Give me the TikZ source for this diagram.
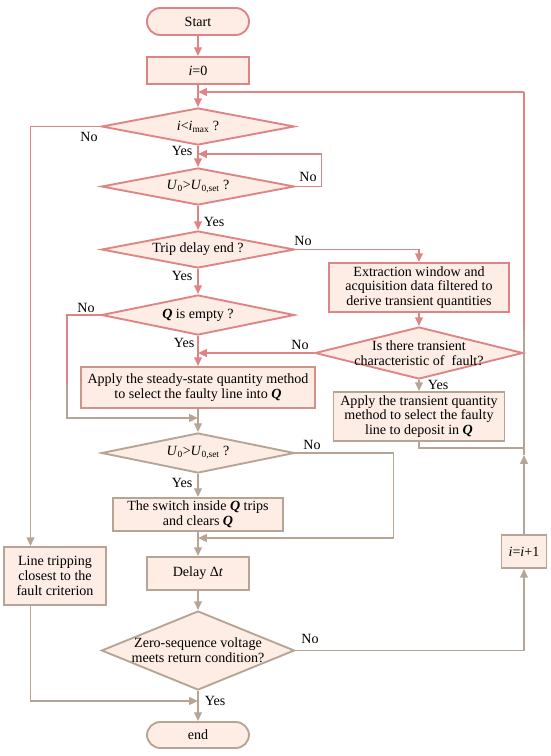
\documentclass[tikz,border=0pt]{standalone}
\usepackage{fontspec}
\setmainfont{Liberation Serif}
\usetikzlibrary{shapes.geometric,arrows.meta,positioning}
\definecolor{pinkline}{RGB}{222,132,132}
\definecolor{brownline}{RGB}{182,165,148}
\definecolor{midline}{RGB}{205,148,138}
\definecolor{boxfill}{RGB}{253,237,228}

\begin{document}
\begin{tikzpicture}[x=0.03cm, y=-0.03cm,
    font=\fontsize{12}{12.5}\selectfont,
    line/.style={line width=1.6pt},
    arr/.style={line, -{Triangle[length=7.5pt,width=6.5pt]}},
    box/.style={draw, fill=boxfill, line width=1.6pt, align=center, inner sep=0pt},
    term/.style={box, rounded corners=0.4cm, minimum width=3.06cm, minimum height=0.81cm},
    dia/.style={box, diamond, minimum width=5.79cm, minimum height=1.11cm}]
  \useasboundingbox (0,0) rectangle (550,756);

  % main column, upper part
  \node[term, draw=pinkline] (start) at (198,21.5) {Start};
  \node[box, draw=pinkline, minimum width=3.06cm, minimum height=0.81cm] (i0) at (198,70.5) {\textit{i}=0};
  \node[dia, draw=pinkline, label=center:{\textit{i}<\textit{i}\textsubscript{max} ?}] (d1) at (198,126.5) {};
  \node[dia, draw=pinkline, label=center:{\textit{U}\textsubscript{0}>\textit{U}\textsubscript{0,set} ?}] (d2) at (198,186.5) {};
  \node[dia, draw=pinkline, label=center:{Trip delay end ?}] (d3) at (198,249.5) {};
  \node[dia, draw=pinkline, minimum height=1.2cm, label=center:{\textbf{\textit{Q}} is empty ?}] (d4) at (198,315) {};
  \node[box, draw=midline, minimum width=7.02cm, minimum height=1.23cm] (steady) at (198,387.5)
    {Apply the steady-state quantity method\\to select the faulty line into \textbf{\textit{Q}}};

  % right branch
  \node[box, draw=pinkline, minimum width=5.4cm, minimum height=1.47cm] (extract) at (419,287.5)
    {Extraction window and\\acquisition data filtered to\\derive transient quantities};
  \node[dia, draw=pinkline, minimum width=6.24cm, minimum height=1.56cm,
    label={[align=center]center:{Is there transient\\characteristic of~ fault?}}] (d5) at (419,353) {};
  \node[box, draw=brownline, minimum width=5.13cm, minimum height=1.47cm] (trans) at (419,416.5)
    {Apply the transient quantity\\method to select the faulty\\line to deposit in \textbf{\textit{Q}}};

  % main column, lower part
  \node[dia, draw=brownline, minimum height=1.2cm, label=center:{\textit{U}\textsubscript{0}>\textit{U}\textsubscript{0,set} ?}] (d6) at (198,453) {};
  \node[box, draw=brownline, minimum width=5.1cm, minimum height=0.99cm] (switch) at (198,514.5)
    {The switch inside \textbf{\textit{Q}} trips\\and clears \textbf{\textit{Q}}};
  \node[box, draw=brownline, minimum width=3.06cm, minimum height=0.99cm] (delay) at (198,573.5) {Delay Δ\textit{t}};
  \node[dia, draw=brownline, minimum height=2.37cm,
    label={[align=center]center:{Zero-sequence voltage\\meets return condition?}}] (d7) at (198,650.5) {};
  \node[term, draw=brownline, minimum height=0.78cm] (end) at (198,735) {end};
  \node[box, draw=brownline, minimum width=3.06cm, minimum height=1.74cm] (trip) at (55,576)
    {Line tripping\\closest to the\\fault criterion};
  \node[box, draw=brownline, minimum width=1.35cm, minimum height=0.99cm] (inc) at (524,551.5) {\textit{i}=\textit{i}+1};

  % junctions
  \coordinate (j1) at (198,92);
  \coordinate (j2) at (198,154);
  \coordinate (j3) at (198,353);
  \coordinate (j4) at (198,418);
  \coordinate (j5) at (524,448);
  \coordinate (j6) at (524,455);
  \coordinate (j7) at (198,538);
  \coordinate (j8) at (198,701);
  \coordinate (rtop) at (524,92);
  \coordinate (rmid) at (524,330);
  \coordinate (lmid) at (30.5,400);
  \coordinate (qmid) at (67,385);

  % upper connectors
  \draw[arr, pinkline] (start) -- (i0);
  \draw[arr, pinkline] (i0) -- (d1);
  \draw[arr, pinkline] (d1) -- (d2);
  \draw[arr, pinkline] (d2.east) -- ++(26,0) |- (j2);
  \draw[arr, pinkline] (d2) -- (d3);
  \draw[arr, pinkline] (d3.east) -| (extract.north);
  \draw[arr, pinkline] (d3) -- (d4);
  \draw[arr, pinkline] (extract) -- (d5);
  \draw[arr, pinkline] (d5.west) -- (j3);
  \draw[arr, pinkline] (d4) -- (steady);
  \draw[arr, brownline] (d5) -- (trans);
  \draw[line, pinkline] (d4.west) -| (qmid);
  \draw[arr, brownline] (qmid) |- (j4);
  \draw[line, pinkline] (d1.west) -| (lmid);
  \draw[arr, brownline] (lmid) -- (lmid |- trip.north);

  % loop back on the right
  \draw[line, brownline] (trans.south) |- (j5);
  \draw[arr, brownline] (inc.north) -- (j6);
  \draw[line, brownline] (j6) -- (rmid);
  \draw[line, pinkline] (rmid) -- (rtop);
  \draw[arr, pinkline] (rtop) -- (j1);

  % lower connectors
  \draw[arr, brownline] (steady) -- (d6);
  \draw[arr, brownline] (d6.east) -- ++(98,0) |- (j7);
  \draw[arr, brownline] (d6) -- (switch);
  \draw[arr, brownline] (switch) -- (delay);
  \draw[arr, brownline] (delay) -- (d7);
  \draw[arr, brownline] (d7) -- (end);
  \draw[arr, brownline] (d7.east) -| (inc.south);
  \draw[arr, brownline] (lmid |- trip.south) |- (j8);

  % branch labels
  \node (n1) at (89,137) {No};
  \node (y1) at (182,151) {Yes};
  \node (n2) at (308,177) {No};
  \node (y2) at (214,222) {Yes};
  \node (n3) at (303,241) {No};
  \node (y3) at (182,276) {Yes};
  \node (n4) at (86,308) {No};
  \node (y4) at (184,343) {Yes};
  \node (n5) at (300,345) {No};
  \node (y5) at (438,385) {Yes};
  \node (n6) at (312,445) {No};
  \node (y6) at (182,483) {Yes};
  \node (n7) at (310,639) {No};
  \node (y7) at (215,701) {Yes};
\end{tikzpicture}
\end{document}
